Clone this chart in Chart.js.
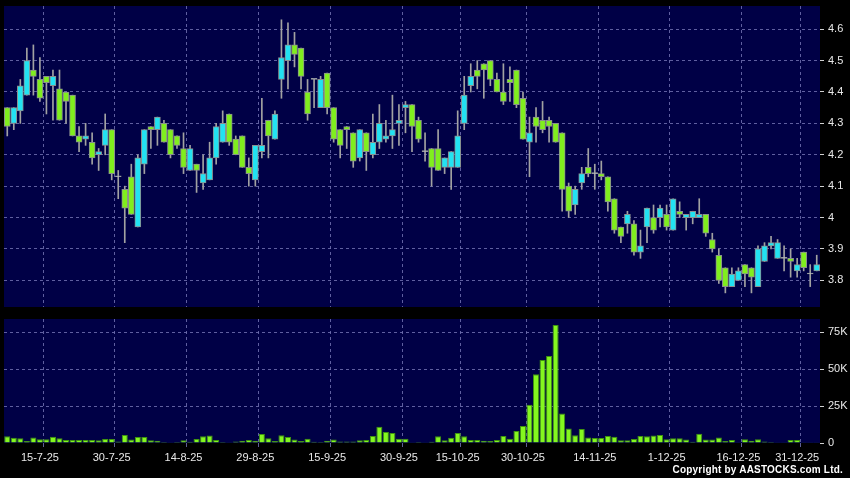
<!DOCTYPE html>
<html><head><meta charset="utf-8">
<script src="https://cdn.jsdelivr.net/npm/chart.js@4.4.1/dist/chart.umd.min.js"></script>
<style>
html,body{margin:0;padding:0;background:#000;width:850px;height:478px;overflow:hidden;}
#c1{position:absolute;left:0;top:0;}
#c2{position:absolute;left:0;top:310px;}
#copy{position:absolute;right:7px;top:464px;font:bold 10px "Liberation Sans",Arial,sans-serif;color:#fff;letter-spacing:0.2px;}
</style></head><body>
<canvas id="c1" width="850" height="310"></canvas>
<canvas id="c2" width="850" height="168"></canvas>
<div id="copy">Copyright by AASTOCKS.com Ltd.</div>
<script>
const dates = [
'8-7-25','9-7-25','10-7-25','11-7-25','14-7-25','15-7-25','16-7-25','17-7-25','18-7-25','21-7-25','22-7-25','23-7-25','24-7-25','25-7-25','28-7-25','29-7-25','30-7-25','31-7-25',
'1-8-25','4-8-25','5-8-25','6-8-25','7-8-25','8-8-25','11-8-25','12-8-25','13-8-25','14-8-25','15-8-25','18-8-25','19-8-25','20-8-25','21-8-25','22-8-25','25-8-25','26-8-25','27-8-25','28-8-25','29-8-25',
'1-9-25','2-9-25','3-9-25','4-9-25','5-9-25','8-9-25','9-9-25','10-9-25','11-9-25','12-9-25','15-9-25','16-9-25','17-9-25','18-9-25','19-9-25','22-9-25','23-9-25','24-9-25','25-9-25','26-9-25','29-9-25','30-9-25',
'2-10-25','3-10-25','6-10-25','8-10-25','9-10-25','10-10-25','13-10-25','14-10-25','15-10-25','16-10-25','17-10-25','20-10-25','21-10-25','22-10-25','23-10-25','24-10-25','27-10-25','28-10-25','30-10-25','31-10-25',
'3-11-25','4-11-25','5-11-25','6-11-25','7-11-25','10-11-25','11-11-25','12-11-25','13-11-25','14-11-25','17-11-25','18-11-25','19-11-25','20-11-25','21-11-25','24-11-25','25-11-25','26-11-25','27-11-25','28-11-25',
'1-12-25','2-12-25','3-12-25','4-12-25','5-12-25','8-12-25','9-12-25','10-12-25','11-12-25','12-12-25','15-12-25','16-12-25','17-12-25','18-12-25','19-12-25','22-12-25','23-12-25','24-12-25','29-12-25','30-12-25','31-12-25',
'2-1-26','5-1-26','6-1-26'];

const opens = [4.35,4.30,4.34,4.39,4.47,4.44,4.45,4.42,4.41,4.40,4.39,4.26,4.25,4.24,4.20,4.23,4.28,4.13,4.09,4.13,
3.97,4.17,4.29,4.28,4.30,4.28,4.26,4.22,4.15,4.17,4.11,4.12,4.19,4.24,4.33,4.25,4.26,4.16,4.12,4.21,
4.31,4.25,4.44,4.50,4.55,4.54,4.40,4.44,4.35,4.46,4.35,4.28,4.29,4.27,4.19,4.27,4.20,4.24,4.25,4.26,
4.30,4.35,4.36,4.31,4.21,4.22,4.22,4.16,4.16,4.16,4.30,4.42,4.47,4.49,4.50,4.44,4.40,4.44,4.47,4.38,
4.24,4.32,4.31,4.31,4.30,4.27,4.10,4.04,4.11,4.16,4.14,4.14,4.13,4.06,3.97,3.98,3.98,3.89,3.97,4.00,
4.00,4.01,3.96,4.02,4.00,4.00,4.00,4.01,3.93,3.88,3.84,3.78,3.80,3.85,3.84,3.78,3.86,3.91,3.87,3.87,
3.87,3.83,3.89,3.82,3.83];
const highs = [4.35,4.35,4.44,4.54,4.55,4.51,4.45,4.47,4.47,4.40,4.39,4.29,4.30,4.27,4.22,4.33,4.28,4.15,4.10,4.17,
4.20,4.28,4.29,4.32,4.31,4.28,4.26,4.27,4.23,4.17,4.20,4.24,4.30,4.34,4.33,4.26,4.26,4.19,4.23,4.38,
4.31,4.34,4.63,4.62,4.59,4.54,4.44,4.44,4.45,4.46,4.35,4.28,4.29,4.27,4.28,4.27,4.33,4.36,4.31,4.39,
4.36,4.37,4.36,4.32,4.27,4.22,4.28,4.19,4.21,4.34,4.45,4.49,4.50,4.49,4.50,4.46,4.49,4.48,4.47,4.40,
4.32,4.35,4.37,4.32,4.30,4.27,4.11,4.10,4.16,4.22,4.17,4.18,4.13,4.06,3.97,4.02,3.99,3.96,4.03,4.04,
4.04,4.04,4.06,4.05,4.01,4.02,4.06,4.01,3.95,3.90,3.84,3.84,3.84,3.85,3.84,3.91,3.92,3.94,3.93,3.91,
3.90,3.87,3.89,3.85,3.88];
const lows = [4.26,4.28,4.30,4.39,4.39,4.37,4.33,4.31,4.31,4.30,4.26,4.21,4.23,4.17,4.15,4.20,4.12,4.06,3.92,4.01,
3.97,4.14,4.22,4.23,4.24,4.19,4.22,4.14,4.15,4.08,4.09,4.12,4.17,4.24,4.23,4.20,4.16,4.10,4.10,4.19,
4.19,4.25,4.38,4.41,4.48,4.41,4.31,4.35,4.35,4.33,4.24,4.19,4.22,4.16,4.18,4.15,4.19,4.22,4.24,4.22,
4.23,4.27,4.21,4.24,4.18,4.10,4.15,4.14,4.09,4.16,4.28,4.40,4.41,4.38,4.42,4.40,4.36,4.37,4.35,4.25,
4.13,4.24,4.27,4.24,4.24,4.02,4.00,4.01,4.09,4.13,4.09,4.12,4.02,3.95,3.92,3.95,3.88,3.87,3.92,3.95,
3.97,3.96,3.96,4.00,3.96,3.98,4.00,3.94,3.89,3.79,3.76,3.78,3.80,3.78,3.76,3.78,3.86,3.90,3.87,3.83,
3.81,3.81,3.83,3.78,3.83];
const closes = [4.29,4.35,4.42,4.50,4.45,4.38,4.43,4.45,4.31,4.37,4.26,4.24,4.26,4.19,4.21,4.28,4.14,4.13,4.03,4.01,
4.19,4.28,4.28,4.32,4.24,4.20,4.23,4.16,4.22,4.15,4.14,4.19,4.29,4.30,4.24,4.20,4.16,4.14,4.23,4.23,
4.26,4.33,4.51,4.55,4.52,4.45,4.33,4.44,4.44,4.35,4.25,4.23,4.28,4.18,4.28,4.21,4.24,4.30,4.26,4.28,
4.31,4.36,4.29,4.25,4.21,4.16,4.15,4.19,4.21,4.26,4.39,4.45,4.45,4.47,4.44,4.40,4.37,4.43,4.36,4.25,
4.27,4.29,4.28,4.29,4.24,4.09,4.02,4.09,4.14,4.14,4.14,4.13,4.05,3.96,3.94,4.01,3.89,3.91,4.03,3.96,
4.03,3.97,4.06,4.01,4.01,4.02,4.01,3.95,3.90,3.80,3.78,3.82,3.83,3.82,3.81,3.90,3.91,3.92,3.92,3.87,
3.86,3.85,3.84,3.82,3.85];
const volumes = [4500,3600,3200,1400,3800,2500,2500,4300,3200,2000,2000,2000,2000,2000,1800,2700,2700,1100,5400,2300,
4100,4100,1800,1600,700,200,700,1800,900,2700,4500,5000,2000,700,200,1100,1600,2000,1600,6100,
3200,1400,5200,4100,2300,1400,2900,900,700,1600,2300,1100,1100,1100,1800,2000,4700,11000,7400,6800,
2900,2900,200,700,200,900,4500,1800,3600,6800,4500,2000,2000,1600,1400,2000,4700,2900,8100,11500,
25900,46600,56300,59000,80000,20000,9900,5200,9500,3800,3400,3400,4700,4300,1800,1800,2700,4700,4500,5000,
5400,2500,3200,3200,2300,900,6300,2300,2300,3800,1400,2000,500,2500,1600,2500,1100,700,500,200,
2000,2000,200,200,200];

const xTickDates = ['15-7-25','30-7-25','14-8-25','29-8-25','15-9-25','30-9-25','15-10-25','30-10-25','14-11-25','1-12-25','16-12-25','31-12-25'];
const priceTicks = [3.8,3.9,4.0,4.1,4.2,4.3,4.4,4.5,4.6];
const volumeTicks = [0,25000,50000,75000];

const NAVY = '#000046';
const GRID = 'rgba(112,112,176,0.85)';
const GREEN = '#80ee1e';
const CYAN = '#22e2f2';
const DOJI = '#cfcfcf';
const BODY_BORDER = '#8a8f8f';
const WICK = '#a2a2a2';
const VOL = '#84f71f';
const VOL_BORDER = '#3f9410';
const TEXT = '#e8e8e8';

Chart.defaults.font.family = '"Liberation Sans", Arial, sans-serif';
Chart.defaults.font.size = 11;
Chart.defaults.color = TEXT;

const labelIdx = new Set(xTickDates.map(d => dates.indexOf(d)));
const vGridColor = ctx => (ctx.type === 'tick' && labelIdx.has(ctx.index - 1)) ? GRID : 'rgba(0,0,0,0)';

const bgPlugin = {
  id: 'plotbg',
  beforeDraw(chart) {
    const a = chart.chartArea, c = chart.ctx;
    c.save(); c.fillStyle = NAVY; c.fillRect(a.left, a.top, a.right - a.left, a.bottom - a.top); c.restore();
  }
};

const candleColor = i => closes[i] > opens[i] ? CYAN : (closes[i] < opens[i] ? GREEN : DOJI);

new Chart(document.getElementById('c1'), {
  type: 'bar',
  data: {
    labels: dates,
    datasets: [
      { label: 'wick', data: dates.map((d, i) => [lows[i], highs[i]]), backgroundColor: WICK,
        borderWidth: 0, barThickness: 1, grouped: false, order: 2 },
      { label: 'body', data: dates.map((d, i) => [Math.min(opens[i], closes[i]), Math.max(opens[i], closes[i])]),
        backgroundColor: ctx => candleColor(ctx.dataIndex), borderColor: BODY_BORDER, borderWidth: 1,
        borderSkipped: false, barThickness: 6, minBarLength: 1, grouped: false, order: 1 }
    ]
  },
  plugins: [bgPlugin],
  options: {
    responsive: false, animation: false, devicePixelRatio: 1,
    layout: { padding: { top: 6, left: 4, right: 0, bottom: 3 } },
    plugins: { legend: { display: false }, tooltip: { enabled: false } },
    scales: {
      x: {
        type: 'category', offset: true,
        grid: { offset: true, color: vGridColor, drawTicks: false },
        border: { display: false, dash: [3, 3] },
        ticks: { display: false, autoSkip: false },
        afterFit: s => { s.height = 0; s.paddingLeft = 0; s.paddingRight = 0; }
      },
      y: {
        position: 'right', min: 3.715, max: 4.674,
        afterBuildTicks: s => { s.ticks = priceTicks.map(v => ({ value: v })); },
        ticks: { color: TEXT, padding: 4, callback: v => String(Math.round(v * 10) / 10) },
        grid: { color: GRID, tickColor: '#cfcfcf', tickLength: 4, tickBorderDash: [] },
        border: { display: false, dash: [3, 3] },
        afterFit: s => { s.width = 30; s.paddingTop = 0; s.paddingBottom = 0; }
      }
    }
  }
});

new Chart(document.getElementById('c2'), {
  type: 'bar',
  data: {
    labels: dates,
    datasets: [
      { label: 'volume', data: volumes, backgroundColor: VOL, borderColor: VOL_BORDER, borderWidth: 1,
        borderSkipped: 'start', barPercentage: 0.93, categoryPercentage: 1.0 }
    ]
  },
  plugins: [bgPlugin],
  options: {
    responsive: false, animation: false, devicePixelRatio: 1,
    layout: { padding: { top: 9, left: 4, right: 0, bottom: 0 } },
    plugins: { legend: { display: false }, tooltip: { enabled: false } },
    scales: {
      x: {
        type: 'category', offset: true,
        grid: { offset: true, color: vGridColor, tickColor: vGridColor, tickLength: 4, tickBorderDash: [] },
        border: { display: false, dash: [3, 3] },
        ticks: { autoSkip: false, maxRotation: 0, minRotation: 0, color: TEXT, padding: 4,
          callback: (v, i) => labelIdx.has(i) ? dates[i] : '' },
        afterFit: s => { s.height = 35; s.paddingLeft = 0; s.paddingRight = 0; }
      },
      y: {
        position: 'right', min: 0, max: 84000,
        afterBuildTicks: s => { s.ticks = volumeTicks.map(v => ({ value: v })); },
        ticks: { color: TEXT, padding: 4, callback: v => v === 0 ? '0' : (v / 1000) + 'K' },
        grid: { color: ctx => (ctx.tick && ctx.tick.value === 0) ? 'rgba(0,0,0,0)' : GRID,
          tickColor: '#cfcfcf', tickLength: 4, tickBorderDash: [] },
        border: { display: false, dash: [3, 3] },
        afterFit: s => { s.width = 30; s.paddingTop = 0; s.paddingBottom = 0; }
      }
    }
  }
});
</script>
</body></html>
